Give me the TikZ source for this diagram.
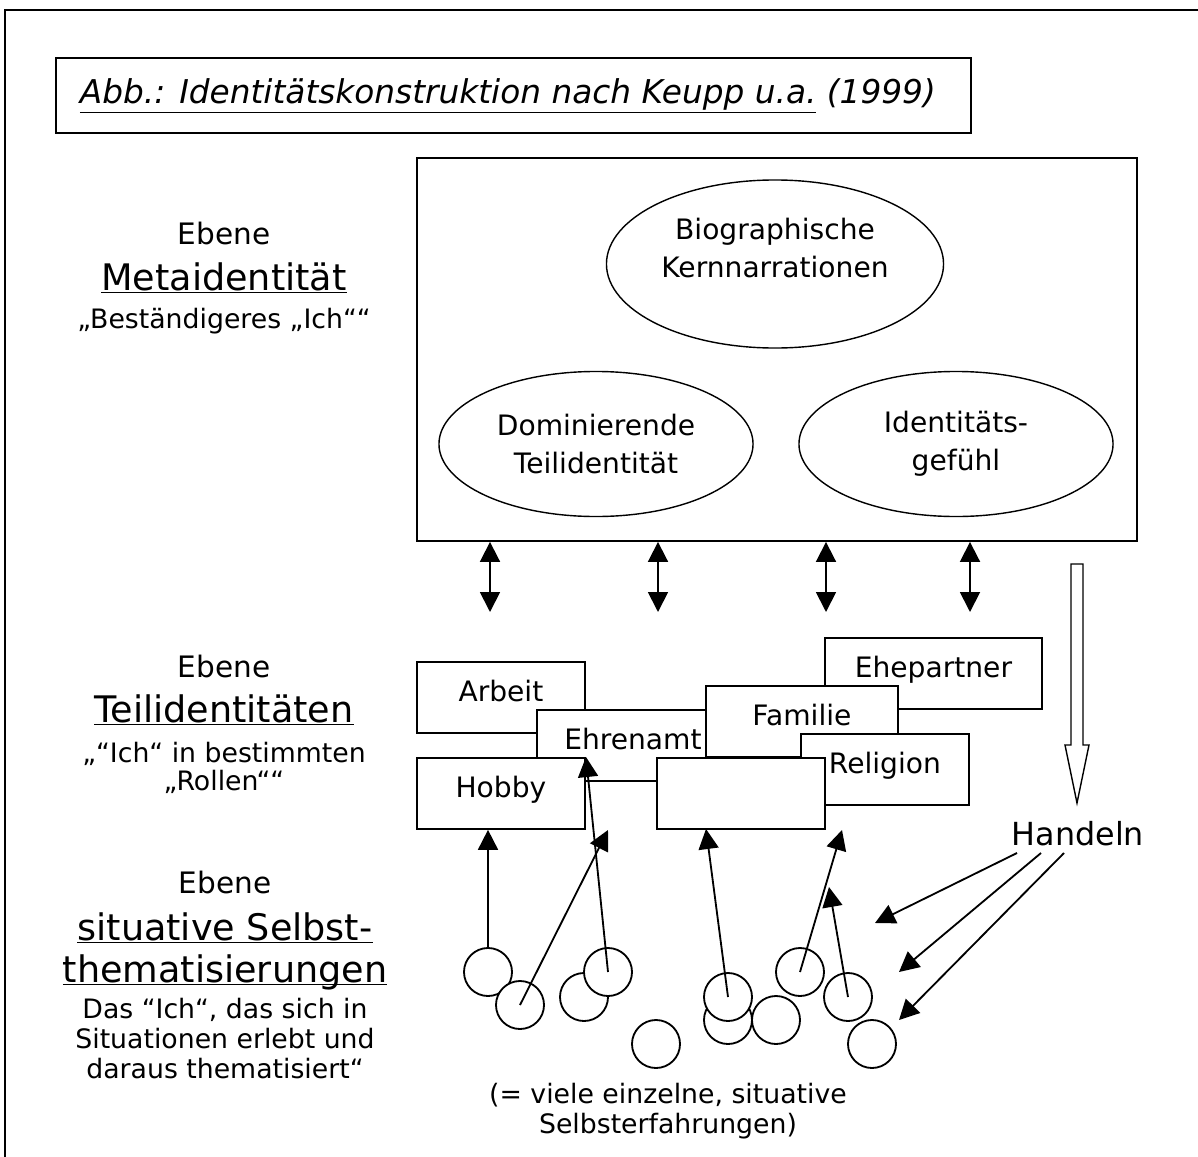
\documentclass[tikz,border=0pt]{standalone}
\usepackage{fontspec}
\setmainfont{DejaVu Sans}
\usetikzlibrary{arrows.meta,calc,shapes.geometric}
\newcommand{\ebeneul}[1]{\underline{\raisebox{0pt}[\height][0pt]{#1}}}
\tikzset{
  ebene text/.style={font=\fontsize{21}{25}\selectfont, inner sep=0pt, anchor=base},
  ebene titel/.style={font=\fontsize{26}{31}\selectfont, inner sep=0pt, anchor=base},
  ebene sub/.style={font=\fontsize{19}{22}\selectfont, inner sep=0pt, anchor=base},
  rolle box/.style={draw, fill=white, minimum width=4.2cm, minimum height=1.775cm,
    anchor=north west, inner sep=0pt, font=\fontsize{20}{24}\selectfont,
    text height=15pt, text depth=9pt},
  kern oval/.style={draw, ellipse, fill=white, align=center, inner sep=0pt,
    line width=1pt, font=\fontsize{20}{27}\selectfont},
  selbst kreis/.style={draw, circle, fill=white, minimum size=1.2cm, inner sep=0pt},
  wirk pfeil/.style={-{Triangle[length=5mm,width=5mm]}},
  wechsel pfeil/.style={{Triangle[length=5mm,width=5mm]}-{Triangle[length=5mm,width=5mm]}}
}

\begin{document}
\begin{tikzpicture}[x=0.025cm,y=-0.025cm,line width=1.3pt]
  \useasboundingbox (0,0) rectangle (1198,1157);
  \draw (5,10) rectangle (1240,1200);

  % Titel
  \node[draw, minimum width=22.875cm, minimum height=1.875cm, anchor=north west] (titelrahmen) at (55,57) {};
  \node[font=\fontsize{23.3}{27}\selectfont\itshape, inner sep=0pt, anchor=base west] (titel) at (79,103)
    {\underline{Abb.: Identitätskonstruktion nach Keupp u.a.} (1999)};

  % Ebenen links
  \node[ebene text] (ebeneMeta) at (224,244) {Ebene};
  \node[ebene titel] (metaTitel) at (224,290) {\ebeneul{Metaidentität}};
  \node[ebene sub] (metaSub) at (224,328) {„Beständigeres „Ich““};

  \node[ebene text] (ebeneTeil) at (224,677) {Ebene};
  \node[ebene titel] (teilTitel) at (224,722) {\ebeneul{Teilidentitäten}};
  \node[ebene sub] (teilSubA) at (224,762) {„“Ich“ in bestimmten};
  \node[ebene sub] (teilSubB) at (224,790) {„Rollen““};

  \node[ebene text] (ebeneSit) at (225,893) {Ebene};
  \node[ebene titel] (sitTitelA) at (225,940) {\ebeneul{situative Selbst-}};
  \node[ebene titel] (sitTitelB) at (225,982) {\ebeneul{thematisierungen}};
  \node[ebene sub] (sitSubA) at (225,1018) {Das “Ich“, das sich in};
  \node[ebene sub] (sitSubB) at (225,1048) {Situationen erlebt und};
  \node[ebene sub] (sitSubC) at (225,1078) {daraus thematisiert“};

  % Metaidentitaet
  \node[draw, minimum width=18cm, minimum height=9.575cm, anchor=north west] (meta) at (416,157) {};
  \node[kern oval, minimum width=8.425cm, minimum height=4.2cm] (bio) at (775,264) {};
  \node[align=center, inner sep=0pt, font=\fontsize{20}{27}\selectfont] (bioText) at (775,248)
    {Biographische\\Kernnarrationen};
  \node[kern oval, minimum width=7.85cm, minimum height=3.625cm] (dominanz) at (596,444)
    {Dominierende\\Teilidentität};
  \node[kern oval, minimum width=7.85cm, minimum height=3.625cm] (gefuehl) at (956,444)
    {Identitäts-\\gefühl};

  \foreach \x [count=\i] in {490,658,826,970} {
    \coordinate (wechsel\i) at (\x,612);
    \draw[wechsel pfeil] (meta.south -| wechsel\i) -- (wechsel\i);
  }

  % Teilidentitaeten
  \node[rolle box] (arbeit) at (416,661) {Arbeit};
  \node[rolle box, minimum width=5.425cm] (ehepartner) at (824,637) {Ehepartner};
  \node[rolle box, minimum width=4.8cm] (ehrenamt) at (536,709) {Ehrenamt};
  \node[rolle box, minimum width=4.8cm] (familie) at (705,685) {Familie};
  \node[rolle box] (religion) at (800,733) {Religion};
  \node[rolle box] (hobby) at (416,757) {Hobby};
  \node[rolle box] (leer) at (656,757) {};

  % Handeln
  \draw[fill=white, line width=1pt] (1071,564) -- (1083,564) -- (1083,745) -- (1089,745)
    -- (1077,803) -- (1065,745) -- (1071,745) -- cycle;
  \node[font=\fontsize{22.6}{27}\selectfont, inner sep=0pt, anchor=base] (handeln) at (1078,845) {Handeln};

  % Selbstthematisierungen
  \node[selbst kreis] (c1) at (488,972) {};
  \node[selbst kreis] (c2) at (520,1005) {};
  \node[selbst kreis] (c3) at (584,997) {};
  \node[selbst kreis] (c4) at (608,972) {};
  \node[selbst kreis] (c5) at (656,1044) {};
  \node[selbst kreis] (c7) at (728,1020) {};
  \node[selbst kreis] (c6) at (728,997) {};
  \node[selbst kreis] (c8) at (776,1020) {};
  \node[selbst kreis] (c9) at (800,972) {};
  \node[selbst kreis] (c10) at (848,997) {};
  \node[selbst kreis] (c11) at (872,1044) {};

  \coordinate (spitzeB) at (608,830);
  \coordinate (spitzeC) at (586,757);
  \coordinate (spitzeD) at (706,829);
  \coordinate (spitzeE) at (842,830);
  \coordinate (spitzeF) at (829,887);
  \draw[wirk pfeil] (c1.north) -- (hobby.south -| c1);
  \draw[wirk pfeil] (c2.center) -- (spitzeB);
  \draw[wirk pfeil] (c4.center) -- (spitzeC);
  \draw[wirk pfeil] (c6.center) -- (spitzeD);
  \draw[wirk pfeil] (c9.center) -- (spitzeE);
  \draw[wirk pfeil] (c10.center) -- (spitzeF);

  \coordinate (zielA) at (875,923);
  \coordinate (zielB) at (899,972);
  \coordinate (zielC) at (899,1020);
  \draw[wirk pfeil] ($(handeln.base)+(-61,8)$) -- (zielA);
  \draw[wirk pfeil] ($(handeln.base)+(-37,8)$) -- (zielB);
  \draw[wirk pfeil] ($(handeln.base)+(-14,8)$) -- (zielC);

  \node[ebene sub] (erfahrungA) at (668,1103) {(= viele einzelne, situative};
  \node[ebene sub] (erfahrungB) at (668,1133) {Selbsterfahrungen)};
\end{tikzpicture}
\end{document}
